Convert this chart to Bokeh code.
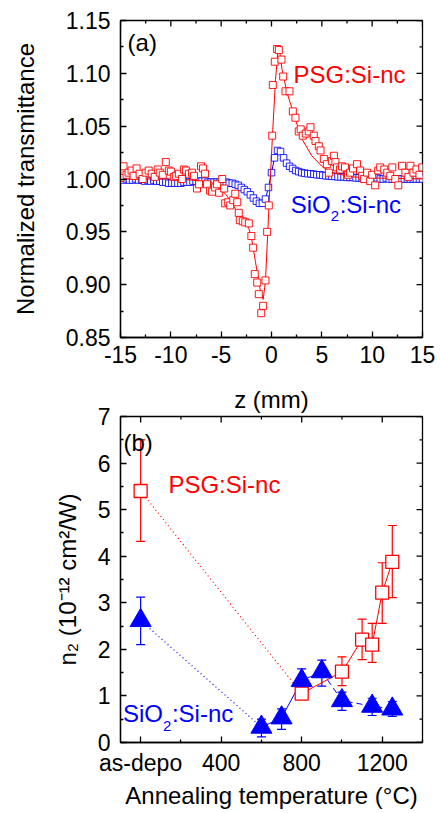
import math
from bokeh.plotting import figure
from bokeh.models import (Range1d, LinearAxis, FixedTicker, Label, Whisker, ColumnDataSource,
                          TeeHead)
from bokeh.layouts import column
from bokeh.embed import file_html
from bokeh.resources import INLINE

FONT = "Liberation Sans"
RED = "#ff0000"
BLUE = "#0000ff"

# ---------------- panel (a) data: z-scan ----------------
red_z = [-15.0, -14.7, -14.4, -14.2, -13.9, -13.7, -13.4, -13.1, -12.8, -12.5,
         -12.2, -11.9, -11.6, -11.3, -11.1, -10.8, -10.5, -10.2, -10.0, -9.7,
         -9.5, -9.2, -8.9, -8.7, -8.5, -8.2, -7.9, -7.7, -7.4, -7.2,
         -7.0, -6.8, -6.6, -6.4, -6.1, -5.9, -5.6, -5.4, -5.2, -4.9,
         -4.7, -4.6, -4.3, -4.1, -3.8, -3.6, -3.4, -3.25, -3.15, -2.85,
         -2.6, -2.25, -2.0, -1.82, -1.66, -1.42, -1.26, -1.02, -0.83, -0.6,
         -0.43, -0.27, 0.07, 0.13, 0.33, 0.56, 0.73, 0.99, 1.16, 1.39,
         1.79, 2.12, 2.38, 2.71, 2.9, 3.11, 3.4, 3.7, 3.87, 4.2,
         4.37, 4.7, 4.87, 5.2, 5.5, 5.7, 6.0, 6.2, 6.35, 6.5,
         6.8, 7.0, 7.3, 7.6, 7.8, 8.1, 8.5, 8.8, 9.0, 9.2,
         9.5, 9.8, 10.0, 10.3, 10.6, 10.8, 11.2, 11.5, 11.8, 12.0,
         12.3, 12.6, 12.97, 13.3, 13.6, 13.8, 14.1, 14.4, 14.7, 14.97]
red_T = [1.001, 1.012, 1.004, 1.006, 1.008, 1.003, 1.010, 1.005, 1.000, 1.006,
         1.008, 1.005, 1.002, 1.009, 1.006, 1.004, 1.016, 1.008, 1.007, 1.002,
         1.003, 1.005, 1.000, 1.009, 1.008, 1.005, 1.006, 1.003, 0.991, 0.995,
         1.012, 1.010, 1.005, 0.995, 0.989, 0.988, 0.992, 0.995, 0.987, 1.000,
         0.991, 0.977, 0.978, 0.975, 0.980, 0.986, 0.978, 0.968, 0.961, 0.960,
         0.959, 0.958, 0.946, 0.935, 0.910, 0.902, 0.891, 0.873, 0.880, 0.904,
         0.950, 0.975, 1.041, 1.089, 1.111, 1.123, 1.122, 1.113, 1.097, 1.083,
         1.083, 1.064, 1.058, 1.045, 1.047, 1.041, 1.043, 1.045, 1.049, 1.041,
         1.036, 1.031, 1.027, 1.019, 1.014, 1.006, 1.017, 1.022, 1.016, 1.011,
         1.009, 1.012, 1.011, 1.004, 1.006, 1.010, 1.014, 1.008, 1.003, 1.000,
         1.006, 0.998, 1.004, 0.994, 1.008, 1.011, 1.009, 1.006, 1.003, 1.011,
         1.000, 0.994, 1.0125, 1.006, 1.002, 1.0125, 1.006, 1.009, 1.004, 1.011]

red_fit_z = [-15, -10, -8, -6, -5.5, -5, -4.5, -4, -3.6, -3, -2.6, -2.25, -2, -1.6, -1.3,
             -1.1, -0.83, -0.6, -0.37, -0.17, 0.13, 0.4, 0.66, 0.85, 1.06, 1.56, 2, 2.38,
             3.05, 4, 5, 6, 8, 10, 15]
red_fit_T = [1.000, 1.000, 0.999, 0.997, 0.994, 0.990, 0.985, 0.978, 0.972, 0.966, 0.960,
             0.953, 0.945, 0.922, 0.905, 0.894, 0.886, 0.903, 0.950, 0.991, 1.047, 1.094,
             1.1235, 1.118, 1.103, 1.081, 1.068, 1.056, 1.0375, 1.022, 1.012, 1.006, 1.002,
             1.001, 1.000]

blue_z = [-15.0, -14.7, -14.4, -14.1, -13.8, -13.5, -13.2, -12.9, -12.6, -12.3,
          -12.0, -11.7, -11.4, -11.1, -10.8, -10.5, -10.2, -9.9, -9.6, -9.3,
          -9.0, -8.7, -8.4, -8.1, -7.8, -7.5, -7.2, -6.9, -6.6, -6.3,
          -6.0, -5.7, -5.4, -5.1, -4.8, -4.5, -4.2, -3.9, -3.6, -3.3,
          -3.0, -2.7, -2.4, -2.1, -1.8, -1.5, -1.2, -0.9, -0.6, -0.3,
          0.0, 0.3, 0.6, 0.9, 1.2, 1.5, 1.8, 2.1, 2.4, 2.7,
          3.0, 3.3, 3.6, 3.9, 4.2, 4.5, 4.8, 5.1, 5.4, 5.7,
          6.0, 6.3, 6.6, 6.9, 7.2, 7.5, 7.8, 8.1, 8.4, 8.7,
          9.0, 9.3, 9.6, 9.9, 10.2, 10.5, 10.8, 11.1, 11.4, 11.7,
          12.0, 12.3, 12.6, 12.9, 13.2, 13.5, 13.8, 14.1, 14.4, 14.7,
          15.0]
blue_T = [1.000, 0.999, 1.000, 0.999, 0.999, 1.000, 0.999, 0.999, 0.998, 0.999,
          0.998, 0.999, 0.998, 0.998, 0.997, 0.997, 0.996, 0.996, 0.996, 0.996,
          0.996, 0.997, 0.997, 0.997, 0.998, 0.998, 0.998, 0.998, 0.998, 0.997,
          0.997, 0.997, 0.997, 0.997, 0.997, 0.997, 0.996, 0.996, 0.995, 0.994,
          0.992, 0.990, 0.988, 0.985, 0.982, 0.979, 0.977, 0.977, 0.981, 0.992,
          1.006, 1.020, 1.027, 1.026, 1.020, 1.015, 1.012, 1.010, 1.008, 1.007,
          1.006, 1.0055, 1.005, 1.005, 1.0045, 1.004, 1.004, 1.0035, 1.003, 1.003,
          1.0025, 1.0025, 1.002, 1.002, 1.002, 1.0015, 1.0015, 1.0015, 1.001, 1.001,
          1.001, 1.001, 1.001, 1.001, 1.000, 1.001, 1.000, 1.000, 1.001, 1.000,
          1.000, 1.000, 1.000, 1.000, 1.000, 1.000, 1.000, 1.000, 1.000, 1.000,
          1.000]

A_XR = (-15, 15)
A_YR = (0.85, 1.15)
a_xticks = [-15, -10, -5, 0, 5, 10, 15]
a_xlabels = ["-15", "-10", "-5", "0", "5", "10", "15"]
a_xminor = [-12.5, -7.5, -2.5, 2.5, 7.5, 12.5]
a_yticks = [0.85, 0.90, 0.95, 1.00, 1.05, 1.10, 1.15]
a_ylabels = ["0.85", "0.90", "0.95", "1.00", "1.05", "1.10", "1.15"]
a_yminor = [0.875, 0.925, 0.975, 1.025, 1.075, 1.125]

# ---------------- panel (b) data: n2 vs annealing ----------------
psg_T = [0, 800, 1000, 1100, 1150, 1200, 1250]
psg_n2 = [5.40, 1.05, 1.52, 2.21, 2.10, 3.22, 3.88]
psg_lo = [4.32, 0.95, 1.22, 1.78, 1.72, 2.56, 3.11]
psg_hi = [6.50, 1.15, 1.84, 2.65, 2.56, 3.86, 4.66]

sio_T = [0, 600, 700, 800, 900, 1000, 1150, 1250]
sio_n2 = [2.62, 0.33, 0.53, 1.33, 1.52, 0.90, 0.78, 0.72]
sio_lo = [2.10, 0.12, 0.28, 1.07, 1.21, 0.69, 0.58, 0.56]
sio_hi = [3.12, 0.50, 0.72, 1.58, 1.77, 1.08, 0.95, 0.88]

B_XR = (-100, 1400)
B_YR = (0, 7)
b_xticks = [0, 400, 800, 1200]
b_xlabels = ["as-depo", "400", "800", "1200"]
b_xminor = [200, 600, 1000, 1400]
b_yticks = [0, 1, 2, 3, 4, 5, 6, 7]
b_ylabels = ["0", "1", "2", "3", "4", "5", "6", "7"]
b_yminor = [0.5, 1.5, 2.5, 3.5, 4.5, 5.5, 6.5]

TICK_FS = "23px"
TITLE_FS = "24px"


def style_axis(ax, ticks, minor, labels, standoff):
    ax.ticker = FixedTicker(ticks=ticks, minor_ticks=minor)
    ax.major_label_overrides = {t: s for t, s in zip(ticks, labels)}
    ax.axis_line_color = "black"
    ax.axis_line_width = 1.3
    ax.major_tick_line_color = "black"
    ax.major_tick_line_width = 1.3
    ax.minor_tick_line_color = "black"
    ax.minor_tick_line_width = 1.3
    ax.major_tick_in = 6
    ax.major_tick_out = 0
    ax.minor_tick_in = 3
    ax.minor_tick_out = 0
    ax.major_label_text_font = FONT
    ax.major_label_text_color = "black"
    ax.major_label_text_font_size = TICK_FS
    ax.major_label_standoff = standoff
    ax.axis_label_text_font = FONT
    ax.axis_label_text_font_size = TITLE_FS
    ax.axis_label_text_font_style = "normal"
    ax.axis_label_text_color = "black"


def mirror_ticks(p, xr, yr, xt, xm, yt, ym):
    # inward ticks on the top and right edges of the frame
    p.ray(x=xt, y=[yr[1]] * len(xt), length=6, length_units="screen",
          angle=-math.pi / 2, line_color="black", line_width=1.3)
    p.ray(x=xm, y=[yr[1]] * len(xm), length=3, length_units="screen",
          angle=-math.pi / 2, line_color="black", line_width=1.3)
    p.ray(x=[xr[1]] * len(yt), y=yt, length=6, length_units="screen",
          angle=math.pi, line_color="black", line_width=1.3)
    p.ray(x=[xr[1]] * len(ym), y=ym, length=3, length_units="screen",
          angle=math.pi, line_color="black", line_width=1.3)


# ---------------- figure (a) ----------------
p1 = figure(width=440, height=375,
            x_range=Range1d(*A_XR), y_range=Range1d(*A_YR),
            output_backend="svg", toolbar_location=None,
            min_border_left=120, min_border_right=18,
            min_border_top=20, min_border_bottom=38)
p1.xgrid.visible = False
p1.ygrid.visible = False
p1.outline_line_color = "black"
p1.outline_line_width = 1.3

style_axis(p1.xaxis[0], a_xticks, a_xminor, a_xlabels, 8)
style_axis(p1.yaxis[0], a_yticks, a_yminor, a_ylabels, 10)
p1.yaxis[0].axis_label = "Normalized transmittance"
p1.yaxis[0].axis_label_standoff = 24
mirror_ticks(p1, A_XR, A_YR, a_xticks, a_xminor, a_yticks, a_yminor)

p1.line(blue_z, blue_T, line_color=BLUE, line_width=1)
p1.scatter(blue_z, blue_T, marker="square", size=6.5, line_color=BLUE,
           fill_color="white", line_width=1, line_alpha=0.85)
p1.line(red_fit_z, red_fit_T, line_color=RED, line_width=1)
p1.scatter(red_z, red_T, marker="square", size=7, line_color=RED,
           fill_color="white", line_width=1, line_alpha=0.9)

p1.add_layout(Label(x=-14.3, y=1.129, text="(a)", text_font=FONT, text_font_size="24px",
                    text_color="black", text_baseline="middle", text_align="left"))
p1.add_layout(Label(x=2.18, y=1.099, text="PSG:Si-nc", text_font=FONT, text_font_size="24px",
                    text_color=RED, text_baseline="middle", text_align="left"))
p1.add_layout(Label(x=1.9, y=0.976, text="SiO", text_font=FONT, text_font_size="24px",
                    text_color=BLUE, text_baseline="middle", text_align="left"))
p1.add_layout(Label(x=1.9, y=0.976, x_offset=40, y_offset=-12, text="2", text_font=FONT,
                    text_font_size="15px", text_color=BLUE, text_baseline="middle",
                    text_align="left"))
p1.add_layout(Label(x=1.9, y=0.976, x_offset=49, text=":Si-nc", text_font=FONT,
                    text_font_size="24px", text_color=BLUE, text_baseline="middle",
                    text_align="left"))

# ---------------- figure (b) ----------------
p2 = figure(width=440, height=436,
            x_range=Range1d(*B_XR), y_range=Range1d(*B_YR),
            output_backend="svg", toolbar_location=None,
            min_border_left=112, min_border_right=13,
            min_border_top=41, min_border_bottom=66)
p2.xgrid.visible = False
p2.ygrid.visible = False
p2.outline_line_color = "black"
p2.outline_line_width = 1.3

style_axis(p2.xaxis[0], b_xticks, b_xminor, b_xlabels, 7)
style_axis(p2.yaxis[0], b_yticks, b_yminor, b_ylabels, 10)
p2.xaxis[0].axis_label = "Annealing temperature (°C)"
p2.xaxis[0].axis_label_standoff = 3
p2.yaxis[0].axis_label = "n₂ (10⁻¹² cm²/W)"
p2.yaxis[0].axis_label_standoff = 14
mirror_ticks(p2, B_XR, B_YR, b_xticks, b_xminor, b_yticks, b_yminor)

# the x-axis title of panel (a) sits just above panel (b)
ztitle = LinearAxis(ticker=FixedTicker(ticks=[], minor_ticks=[]), axis_label="z (mm)")
ztitle.axis_line_color = None
ztitle.major_tick_line_color = None
ztitle.minor_tick_line_color = None
ztitle.major_label_standoff = 0
ztitle.axis_label_standoff = 4
ztitle.axis_label_text_font = FONT
ztitle.axis_label_text_font_size = TITLE_FS
ztitle.axis_label_text_font_style = "normal"
ztitle.axis_label_text_color = "black"
p2.add_layout(ztitle, "above")

# connecting lines
p2.line(psg_T[:2], psg_n2[:2], line_color=RED, line_width=1.2, line_dash="1 3")
p2.line(psg_T[1:], psg_n2[1:], line_color=RED, line_width=1)
p2.line(sio_T[:2], sio_n2[:2], line_color=BLUE, line_width=1.2, line_dash="1 3")
p2.line(sio_T[1:5], sio_n2[1:5], line_color=BLUE, line_width=1)
p2.line(sio_T[4:], sio_n2[4:], line_color=BLUE, line_width=1, line_dash="6 4")

psg_src = ColumnDataSource(dict(x=psg_T, y=psg_n2, lo=psg_lo, hi=psg_hi))
sio_src = ColumnDataSource(dict(x=sio_T, y=sio_n2, lo=sio_lo, hi=sio_hi))

p2.add_layout(Whisker(source=psg_src, base="x", lower="lo", upper="hi",
                      line_color=RED, line_width=1.2,
                      upper_head=TeeHead(size=9, line_color=RED, line_width=1.2),
                      lower_head=TeeHead(size=9, line_color=RED, line_width=1.2)))
p2.scatter("x", "y", source=psg_src, marker="square", size=13, line_color=RED,
           fill_color="white", line_width=1.3)

p2.add_layout(Whisker(source=sio_src, base="x", lower="lo", upper="hi",
                      line_color=BLUE, line_width=1.2,
                      upper_head=TeeHead(size=9, line_color=BLUE, line_width=1.2),
                      lower_head=TeeHead(size=9, line_color=BLUE, line_width=1.2)))
p2.scatter("x", "y", source=sio_src, marker="triangle", size=21, line_color=BLUE,
           fill_color=BLUE, line_width=1)

p2.add_layout(Label(x=-85, y=6.45, text="(b)", text_font=FONT, text_font_size="24px",
                    text_color="black", text_baseline="middle", text_align="left"))
p2.add_layout(Label(x=138, y=5.53, text="PSG:Si-nc", text_font=FONT, text_font_size="24px",
                    text_color=RED, text_baseline="middle", text_align="left"))
p2.add_layout(Label(x=-88, y=0.62, text="SiO", text_font=FONT, text_font_size="24px",
                    text_color=BLUE, text_baseline="middle", text_align="left"))
p2.add_layout(Label(x=-88, y=0.62, x_offset=40, y_offset=-12, text="2", text_font=FONT,
                    text_font_size="15px", text_color=BLUE, text_baseline="middle",
                    text_align="left"))
p2.add_layout(Label(x=-88, y=0.62, x_offset=49, text=":Si-nc", text_font=FONT,
                    text_font_size="24px", text_color=BLUE, text_baseline="middle",
                    text_align="left"))

layout = column(p1, p2)
open("out.html", "w").write(file_html(layout, INLINE))
